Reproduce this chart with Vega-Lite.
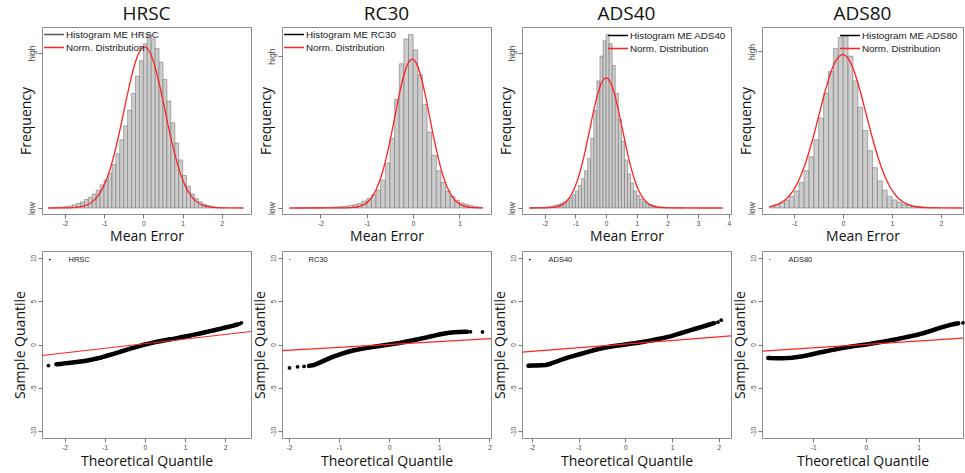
{
"$schema":"https://vega.github.io/schema/vega-lite/v6.json",
"background":"white",
"padding":{"left":12,"top":4,"right":0,"bottom":0},
"datasets":{
"hist":[
{"p":"HRSC","x":-2.3,"xe":-2.2,"y":0.003},{"p":"HRSC","x":-2.2,"xe":-2.1,"y":0.005},{"p":"HRSC","x":-2.1,"xe":-2.0,"y":0.007},{"p":"HRSC","x":-2.0,"xe":-1.9,"y":0.01},{"p":"HRSC","x":-1.9,"xe":-1.8,"y":0.014},{"p":"HRSC","x":-1.8,"xe":-1.7,"y":0.02},{"p":"HRSC","x":-1.7,"xe":-1.6,"y":0.03},{"p":"HRSC","x":-1.6,"xe":-1.5,"y":0.04},{"p":"HRSC","x":-1.5,"xe":-1.4,"y":0.055},{"p":"HRSC","x":-1.4,"xe":-1.3,"y":0.07},{"p":"HRSC","x":-1.3,"xe":-1.2,"y":0.09},{"p":"HRSC","x":-1.2,"xe":-1.1,"y":0.115},{"p":"HRSC","x":-1.1,"xe":-1.0,"y":0.15},{"p":"HRSC","x":-1.0,"xe":-0.9,"y":0.18},{"p":"HRSC","x":-0.9,"xe":-0.8,"y":0.225},{"p":"HRSC","x":-0.8,"xe":-0.7,"y":0.28},{"p":"HRSC","x":-0.7,"xe":-0.6,"y":0.35},{"p":"HRSC","x":-0.6,"xe":-0.5,"y":0.44},{"p":"HRSC","x":-0.5,"xe":-0.4,"y":0.53},{"p":"HRSC","x":-0.4,"xe":-0.3,"y":0.63},{"p":"HRSC","x":-0.3,"xe":-0.2,"y":0.74},{"p":"HRSC","x":-0.2,"xe":-0.1,"y":0.85},{"p":"HRSC","x":-0.1,"xe":0,"y":0.95},{"p":"HRSC","x":0,"xe":0.1,"y":1.06},{"p":"HRSC","x":0.1,"xe":0.2,"y":1.12},{"p":"HRSC","x":0.2,"xe":0.3,"y":1.09},{"p":"HRSC","x":0.3,"xe":0.4,"y":1.03},{"p":"HRSC","x":0.4,"xe":0.5,"y":0.94},{"p":"HRSC","x":0.5,"xe":0.6,"y":0.83},{"p":"HRSC","x":0.6,"xe":0.7,"y":0.69},{"p":"HRSC","x":0.7,"xe":0.8,"y":0.55},{"p":"HRSC","x":0.8,"xe":0.9,"y":0.42},{"p":"HRSC","x":0.9,"xe":1.0,"y":0.31},{"p":"HRSC","x":1.0,"xe":1.1,"y":0.21},{"p":"HRSC","x":1.1,"xe":1.2,"y":0.14},{"p":"HRSC","x":1.2,"xe":1.3,"y":0.09},{"p":"HRSC","x":1.3,"xe":1.4,"y":0.06},{"p":"HRSC","x":1.4,"xe":1.5,"y":0.04},{"p":"HRSC","x":1.5,"xe":1.6,"y":0.025},{"p":"HRSC","x":1.6,"xe":1.7,"y":0.016},{"p":"HRSC","x":1.7,"xe":1.8,"y":0.01},{"p":"HRSC","x":1.8,"xe":1.9,"y":0.006},{"p":"HRSC","x":1.9,"xe":2.0,"y":0.004},{"p":"HRSC","x":2.0,"xe":2.1,"y":0.002},
{"p":"RC30","x":-2.5,"xe":-2.4,"y":0.001},{"p":"RC30","x":-2.4,"xe":-2.3,"y":0.001},{"p":"RC30","x":-2.3,"xe":-2.2,"y":0.002},{"p":"RC30","x":-2.2,"xe":-2.1,"y":0.002},{"p":"RC30","x":-2.1,"xe":-2.0,"y":0.003},{"p":"RC30","x":-2.0,"xe":-1.9,"y":0.003},{"p":"RC30","x":-1.9,"xe":-1.8,"y":0.004},{"p":"RC30","x":-1.8,"xe":-1.7,"y":0.005},{"p":"RC30","x":-1.7,"xe":-1.6,"y":0.007},{"p":"RC30","x":-1.6,"xe":-1.5,"y":0.009},{"p":"RC30","x":-1.5,"xe":-1.4,"y":0.012},{"p":"RC30","x":-1.4,"xe":-1.3,"y":0.016},{"p":"RC30","x":-1.3,"xe":-1.2,"y":0.022},{"p":"RC30","x":-1.2,"xe":-1.1,"y":0.03},{"p":"RC30","x":-1.1,"xe":-1.0,"y":0.045},{"p":"RC30","x":-1.0,"xe":-0.9,"y":0.062},{"p":"RC30","x":-0.9,"xe":-0.8,"y":0.085},{"p":"RC30","x":-0.8,"xe":-0.7,"y":0.115},{"p":"RC30","x":-0.7,"xe":-0.6,"y":0.18},{"p":"RC30","x":-0.6,"xe":-0.5,"y":0.29},{"p":"RC30","x":-0.5,"xe":-0.4,"y":0.45},{"p":"RC30","x":-0.4,"xe":-0.3,"y":0.7},{"p":"RC30","x":-0.3,"xe":-0.2,"y":0.93},{"p":"RC30","x":-0.2,"xe":-0.1,"y":1.09},{"p":"RC30","x":-0.1,"xe":0,"y":1.12},{"p":"RC30","x":0,"xe":0.1,"y":1.02},{"p":"RC30","x":0.1,"xe":0.2,"y":0.86},{"p":"RC30","x":0.2,"xe":0.3,"y":0.67},{"p":"RC30","x":0.3,"xe":0.4,"y":0.49},{"p":"RC30","x":0.4,"xe":0.5,"y":0.34},{"p":"RC30","x":0.5,"xe":0.6,"y":0.24},{"p":"RC30","x":0.6,"xe":0.7,"y":0.165},{"p":"RC30","x":0.7,"xe":0.8,"y":0.11},{"p":"RC30","x":0.8,"xe":0.9,"y":0.075},{"p":"RC30","x":0.9,"xe":1.0,"y":0.05},{"p":"RC30","x":1.0,"xe":1.1,"y":0.033},{"p":"RC30","x":1.1,"xe":1.2,"y":0.022},{"p":"RC30","x":1.2,"xe":1.3,"y":0.014},{"p":"RC30","x":1.3,"xe":1.4,"y":0.009},{"p":"RC30","x":1.4,"xe":1.5,"y":0.005},
{"p":"ADS40","x":-2.5,"xe":-2.4,"y":0.001},{"p":"ADS40","x":-2.4,"xe":-2.3,"y":0.002},{"p":"ADS40","x":-2.3,"xe":-2.2,"y":0.003},{"p":"ADS40","x":-2.2,"xe":-2.1,"y":0.004},{"p":"ADS40","x":-2.1,"xe":-2.0,"y":0.005},{"p":"ADS40","x":-2.0,"xe":-1.9,"y":0.007},{"p":"ADS40","x":-1.9,"xe":-1.8,"y":0.009},{"p":"ADS40","x":-1.8,"xe":-1.7,"y":0.012},{"p":"ADS40","x":-1.7,"xe":-1.6,"y":0.017},{"p":"ADS40","x":-1.6,"xe":-1.5,"y":0.022},{"p":"ADS40","x":-1.5,"xe":-1.4,"y":0.03},{"p":"ADS40","x":-1.4,"xe":-1.3,"y":0.04},{"p":"ADS40","x":-1.3,"xe":-1.2,"y":0.052},{"p":"ADS40","x":-1.2,"xe":-1.1,"y":0.068},{"p":"ADS40","x":-1.1,"xe":-1.0,"y":0.085},{"p":"ADS40","x":-1.0,"xe":-0.9,"y":0.11},{"p":"ADS40","x":-0.9,"xe":-0.8,"y":0.145},{"p":"ADS40","x":-0.8,"xe":-0.7,"y":0.19},{"p":"ADS40","x":-0.7,"xe":-0.6,"y":0.24},{"p":"ADS40","x":-0.6,"xe":-0.5,"y":0.32},{"p":"ADS40","x":-0.5,"xe":-0.4,"y":0.45},{"p":"ADS40","x":-0.4,"xe":-0.3,"y":0.63},{"p":"ADS40","x":-0.3,"xe":-0.2,"y":0.82},{"p":"ADS40","x":-0.2,"xe":-0.1,"y":0.98},{"p":"ADS40","x":-0.1,"xe":0,"y":1.08},{"p":"ADS40","x":0,"xe":0.1,"y":1.12},{"p":"ADS40","x":0.1,"xe":0.2,"y":1.06},{"p":"ADS40","x":0.2,"xe":0.3,"y":0.92},{"p":"ADS40","x":0.3,"xe":0.4,"y":0.74},{"p":"ADS40","x":0.4,"xe":0.5,"y":0.57},{"p":"ADS40","x":0.5,"xe":0.6,"y":0.43},{"p":"ADS40","x":0.6,"xe":0.7,"y":0.31},{"p":"ADS40","x":0.7,"xe":0.8,"y":0.22},{"p":"ADS40","x":0.8,"xe":0.9,"y":0.16},{"p":"ADS40","x":0.9,"xe":1.0,"y":0.11},{"p":"ADS40","x":1.0,"xe":1.1,"y":0.08},{"p":"ADS40","x":1.1,"xe":1.2,"y":0.058},{"p":"ADS40","x":1.2,"xe":1.3,"y":0.042},{"p":"ADS40","x":1.3,"xe":1.4,"y":0.03},{"p":"ADS40","x":1.4,"xe":1.5,"y":0.021},{"p":"ADS40","x":1.5,"xe":1.6,"y":0.015},{"p":"ADS40","x":1.6,"xe":1.7,"y":0.011},{"p":"ADS40","x":1.7,"xe":1.8,"y":0.008},{"p":"ADS40","x":1.8,"xe":1.9,"y":0.006},{"p":"ADS40","x":1.9,"xe":2.0,"y":0.004},{"p":"ADS40","x":2.0,"xe":2.1,"y":0.003},{"p":"ADS40","x":2.1,"xe":2.2,"y":0.002},{"p":"ADS40","x":2.2,"xe":2.3,"y":0.002},{"p":"ADS40","x":2.3,"xe":2.4,"y":0.001},{"p":"ADS40","x":2.4,"xe":2.5,"y":0.001},
{"p":"ADS80","x":-1.5,"xe":-1.4,"y":0.012},{"p":"ADS80","x":-1.4,"xe":-1.3,"y":0.022},{"p":"ADS80","x":-1.3,"xe":-1.2,"y":0.034},{"p":"ADS80","x":-1.2,"xe":-1.1,"y":0.05},{"p":"ADS80","x":-1.1,"xe":-1.0,"y":0.075},{"p":"ADS80","x":-1.0,"xe":-0.9,"y":0.11},{"p":"ADS80","x":-0.9,"xe":-0.8,"y":0.165},{"p":"ADS80","x":-0.8,"xe":-0.7,"y":0.24},{"p":"ADS80","x":-0.7,"xe":-0.6,"y":0.33},{"p":"ADS80","x":-0.6,"xe":-0.5,"y":0.44},{"p":"ADS80","x":-0.5,"xe":-0.4,"y":0.58},{"p":"ADS80","x":-0.4,"xe":-0.3,"y":0.74},{"p":"ADS80","x":-0.3,"xe":-0.2,"y":0.88},{"p":"ADS80","x":-0.2,"xe":-0.1,"y":1.03},{"p":"ADS80","x":-0.1,"xe":0,"y":1.1},{"p":"ADS80","x":0,"xe":0.1,"y":1.11},{"p":"ADS80","x":0.1,"xe":0.2,"y":0.98},{"p":"ADS80","x":0.2,"xe":0.3,"y":0.82},{"p":"ADS80","x":0.3,"xe":0.4,"y":0.65},{"p":"ADS80","x":0.4,"xe":0.5,"y":0.5},{"p":"ADS80","x":0.5,"xe":0.6,"y":0.37},{"p":"ADS80","x":0.6,"xe":0.7,"y":0.26},{"p":"ADS80","x":0.7,"xe":0.8,"y":0.175},{"p":"ADS80","x":0.8,"xe":0.9,"y":0.115},{"p":"ADS80","x":0.9,"xe":1.0,"y":0.075},{"p":"ADS80","x":1.0,"xe":1.1,"y":0.052},{"p":"ADS80","x":1.1,"xe":1.2,"y":0.036},{"p":"ADS80","x":1.2,"xe":1.3,"y":0.025},{"p":"ADS80","x":1.3,"xe":1.4,"y":0.018},{"p":"ADS80","x":1.4,"xe":1.5,"y":0.013},{"p":"ADS80","x":1.5,"xe":1.6,"y":0.009},{"p":"ADS80","x":1.6,"xe":1.7,"y":0.007},{"p":"ADS80","x":1.7,"xe":1.8,"y":0.005},{"p":"ADS80","x":1.8,"xe":1.9,"y":0.004},{"p":"ADS80","x":1.9,"xe":2.0,"y":0.003}
],
"curve":[
{"p":"HRSC","x":-2.43,"y":0},{"p":"HRSC","x":-2.05,"y":0.0003},{"p":"HRSC","x":-1.79,"y":0.002},{"p":"HRSC","x":-1.53,"y":0.012},{"p":"HRSC","x":-1.4,"y":0.024},{"p":"HRSC","x":-1.27,"y":0.046},{"p":"HRSC","x":-1.14,"y":0.083},{"p":"HRSC","x":-1.01,"y":0.141},{"p":"HRSC","x":-0.88,"y":0.225},{"p":"HRSC","x":-0.75,"y":0.338},{"p":"HRSC","x":-0.62,"y":0.476},{"p":"HRSC","x":-0.49,"y":0.631},{"p":"HRSC","x":-0.36,"y":0.785},{"p":"HRSC","x":-0.23,"y":0.918},{"p":"HRSC","x":-0.1,"y":1.008},{"p":"HRSC","x":0.03,"y":1.04},{"p":"HRSC","x":0.16,"y":1.008},{"p":"HRSC","x":0.29,"y":0.918},{"p":"HRSC","x":0.42,"y":0.785},{"p":"HRSC","x":0.55,"y":0.631},{"p":"HRSC","x":0.68,"y":0.476},{"p":"HRSC","x":0.81,"y":0.338},{"p":"HRSC","x":0.94,"y":0.225},{"p":"HRSC","x":1.07,"y":0.141},{"p":"HRSC","x":1.2,"y":0.083},{"p":"HRSC","x":1.33,"y":0.046},{"p":"HRSC","x":1.46,"y":0.024},{"p":"HRSC","x":1.59,"y":0.012},{"p":"HRSC","x":1.85,"y":0.002},{"p":"HRSC","x":2.11,"y":0.0003},{"p":"HRSC","x":2.55,"y":0},
{"p":"RC30","x":-2.67,"y":0},{"p":"RC30","x":-1.54,"y":0.0003},{"p":"RC30","x":-1.35,"y":0.002},{"p":"RC30","x":-1.16,"y":0.011},{"p":"RC30","x":-1.065,"y":0.022},{"p":"RC30","x":-0.97,"y":0.042},{"p":"RC30","x":-0.875,"y":0.076},{"p":"RC30","x":-0.78,"y":0.13},{"p":"RC30","x":-0.685,"y":0.208},{"p":"RC30","x":-0.59,"y":0.312},{"p":"RC30","x":-0.495,"y":0.439},{"p":"RC30","x":-0.4,"y":0.582},{"p":"RC30","x":-0.305,"y":0.725},{"p":"RC30","x":-0.21,"y":0.847},{"p":"RC30","x":-0.115,"y":0.93},{"p":"RC30","x":-0.02,"y":0.96},{"p":"RC30","x":0.075,"y":0.93},{"p":"RC30","x":0.17,"y":0.847},{"p":"RC30","x":0.265,"y":0.725},{"p":"RC30","x":0.36,"y":0.582},{"p":"RC30","x":0.455,"y":0.439},{"p":"RC30","x":0.55,"y":0.312},{"p":"RC30","x":0.645,"y":0.208},{"p":"RC30","x":0.74,"y":0.13},{"p":"RC30","x":0.835,"y":0.076},{"p":"RC30","x":0.93,"y":0.042},{"p":"RC30","x":1.025,"y":0.022},{"p":"RC30","x":1.12,"y":0.011},{"p":"RC30","x":1.31,"y":0.002},{"p":"RC30","x":1.5,"y":0.0003},
{"p":"ADS40","x":-2.5,"y":0},{"p":"ADS40","x":-2.12,"y":0.0003},{"p":"ADS40","x":-1.855,"y":0.002},{"p":"ADS40","x":-1.59,"y":0.009},{"p":"ADS40","x":-1.458,"y":0.019},{"p":"ADS40","x":-1.325,"y":0.037},{"p":"ADS40","x":-1.193,"y":0.067},{"p":"ADS40","x":-1.06,"y":0.114},{"p":"ADS40","x":-0.928,"y":0.182},{"p":"ADS40","x":-0.795,"y":0.273},{"p":"ADS40","x":-0.663,"y":0.385},{"p":"ADS40","x":-0.53,"y":0.509},{"p":"ADS40","x":-0.398,"y":0.634},{"p":"ADS40","x":-0.265,"y":0.741},{"p":"ADS40","x":-0.133,"y":0.814},{"p":"ADS40","x":0,"y":0.84},{"p":"ADS40","x":0.133,"y":0.814},{"p":"ADS40","x":0.265,"y":0.741},{"p":"ADS40","x":0.398,"y":0.634},{"p":"ADS40","x":0.53,"y":0.509},{"p":"ADS40","x":0.663,"y":0.385},{"p":"ADS40","x":0.795,"y":0.273},{"p":"ADS40","x":0.928,"y":0.182},{"p":"ADS40","x":1.06,"y":0.114},{"p":"ADS40","x":1.193,"y":0.067},{"p":"ADS40","x":1.325,"y":0.037},{"p":"ADS40","x":1.458,"y":0.019},{"p":"ADS40","x":1.59,"y":0.009},{"p":"ADS40","x":1.855,"y":0.002},{"p":"ADS40","x":2.12,"y":0.0003},{"p":"ADS40","x":3.8,"y":0},
{"p":"ADS80","x":-1.51,"y":0.008},{"p":"ADS80","x":-1.465,"y":0.011},{"p":"ADS80","x":-1.344,"y":0.023},{"p":"ADS80","x":-1.223,"y":0.043},{"p":"ADS80","x":-1.101,"y":0.079},{"p":"ADS80","x":-0.98,"y":0.134},{"p":"ADS80","x":-0.859,"y":0.214},{"p":"ADS80","x":-0.738,"y":0.321},{"p":"ADS80","x":-0.616,"y":0.453},{"p":"ADS80","x":-0.495,"y":0.6},{"p":"ADS80","x":-0.374,"y":0.747},{"p":"ADS80","x":-0.253,"y":0.874},{"p":"ADS80","x":-0.131,"y":0.96},{"p":"ADS80","x":-0.01,"y":0.99},{"p":"ADS80","x":0.111,"y":0.96},{"p":"ADS80","x":0.233,"y":0.874},{"p":"ADS80","x":0.354,"y":0.747},{"p":"ADS80","x":0.475,"y":0.6},{"p":"ADS80","x":0.596,"y":0.453},{"p":"ADS80","x":0.718,"y":0.321},{"p":"ADS80","x":0.839,"y":0.214},{"p":"ADS80","x":0.96,"y":0.134},{"p":"ADS80","x":1.081,"y":0.079},{"p":"ADS80","x":1.203,"y":0.043},{"p":"ADS80","x":1.324,"y":0.023},{"p":"ADS80","x":1.445,"y":0.011},{"p":"ADS80","x":1.688,"y":0.002},{"p":"ADS80","x":1.93,"y":0.0003},{"p":"ADS80","x":2.44,"y":0}
],
"qq":[
{"p":"HRSC","q":-2.4,"s":-2.43,"iso":true},{"p":"HRSC","q":-2.2,"s":-2.29},{"p":"HRSC","q":-2.1,"s":-2.24},{"p":"HRSC","q":-2.0,"s":-2.18},{"p":"HRSC","q":-1.9,"s":-2.14},{"p":"HRSC","q":-1.8,"s":-2.09},{"p":"HRSC","q":-1.7,"s":-2.03},{"p":"HRSC","q":-1.6,"s":-1.97},{"p":"HRSC","q":-1.5,"s":-1.9},{"p":"HRSC","q":-1.4,"s":-1.82},{"p":"HRSC","q":-1.3,"s":-1.72},{"p":"HRSC","q":-1.2,"s":-1.62},{"p":"HRSC","q":-1.1,"s":-1.52},{"p":"HRSC","q":-1.0,"s":-1.38},{"p":"HRSC","q":-0.9,"s":-1.24},{"p":"HRSC","q":-0.8,"s":-1.11},{"p":"HRSC","q":-0.7,"s":-0.97},{"p":"HRSC","q":-0.6,"s":-0.83},{"p":"HRSC","q":-0.5,"s":-0.68},{"p":"HRSC","q":-0.4,"s":-0.54},{"p":"HRSC","q":-0.3,"s":-0.4},{"p":"HRSC","q":-0.2,"s":-0.27},{"p":"HRSC","q":-0.1,"s":-0.13},{"p":"HRSC","q":0,"s":0},{"p":"HRSC","q":0.1,"s":0.1},{"p":"HRSC","q":0.2,"s":0.21},{"p":"HRSC","q":0.3,"s":0.31},{"p":"HRSC","q":0.4,"s":0.41},{"p":"HRSC","q":0.5,"s":0.5},{"p":"HRSC","q":0.6,"s":0.58},{"p":"HRSC","q":0.7,"s":0.65},{"p":"HRSC","q":0.8,"s":0.74},{"p":"HRSC","q":0.9,"s":0.83},{"p":"HRSC","q":1.0,"s":0.92},{"p":"HRSC","q":1.1,"s":1.01},{"p":"HRSC","q":1.2,"s":1.11},{"p":"HRSC","q":1.3,"s":1.21},{"p":"HRSC","q":1.4,"s":1.3},{"p":"HRSC","q":1.5,"s":1.41},{"p":"HRSC","q":1.6,"s":1.52},{"p":"HRSC","q":1.7,"s":1.62},{"p":"HRSC","q":1.8,"s":1.73},{"p":"HRSC","q":1.9,"s":1.84},{"p":"HRSC","q":2.0,"s":1.96},{"p":"HRSC","q":2.1,"s":2.07},{"p":"HRSC","q":2.2,"s":2.18},{"p":"HRSC","q":2.25,"s":2.25},{"p":"HRSC","q":2.3,"s":2.31},{"p":"HRSC","q":2.35,"s":2.38,"iso":true},{"p":"HRSC","q":2.4,"s":2.5,"iso":true},
{"p":"RC30","q":-1.99,"s":-2.7,"iso":true},{"p":"RC30","q":-1.83,"s":-2.58,"iso":true},{"p":"RC30","q":-1.7,"s":-2.54,"iso":true},{"p":"RC30","q":-1.6,"s":-2.47},{"p":"RC30","q":-1.5,"s":-2.37},{"p":"RC30","q":-1.4,"s":-2.12},{"p":"RC30","q":-1.3,"s":-1.86},{"p":"RC30","q":-1.2,"s":-1.6},{"p":"RC30","q":-1.1,"s":-1.38},{"p":"RC30","q":-1.0,"s":-1.16},{"p":"RC30","q":-0.9,"s":-0.98},{"p":"RC30","q":-0.8,"s":-0.81},{"p":"RC30","q":-0.7,"s":-0.67},{"p":"RC30","q":-0.6,"s":-0.56},{"p":"RC30","q":-0.5,"s":-0.45},{"p":"RC30","q":-0.4,"s":-0.36},{"p":"RC30","q":-0.3,"s":-0.27},{"p":"RC30","q":-0.2,"s":-0.18},{"p":"RC30","q":-0.1,"s":-0.09},{"p":"RC30","q":0,"s":0},{"p":"RC30","q":0.1,"s":0.09},{"p":"RC30","q":0.2,"s":0.18},{"p":"RC30","q":0.3,"s":0.28},{"p":"RC30","q":0.4,"s":0.4},{"p":"RC30","q":0.5,"s":0.52},{"p":"RC30","q":0.6,"s":0.64},{"p":"RC30","q":0.7,"s":0.77},{"p":"RC30","q":0.8,"s":0.9},{"p":"RC30","q":0.9,"s":1.03},{"p":"RC30","q":1.0,"s":1.16},{"p":"RC30","q":1.1,"s":1.27},{"p":"RC30","q":1.2,"s":1.36},{"p":"RC30","q":1.3,"s":1.42},{"p":"RC30","q":1.4,"s":1.45},{"p":"RC30","q":1.5,"s":1.46},{"p":"RC30","q":1.55,"s":1.46},{"p":"RC30","q":1.62,"s":1.46,"iso":true},{"p":"RC30","q":1.86,"s":1.45,"iso":true},
{"p":"ADS40","q":-2.07,"s":-2.45},{"p":"ADS40","q":-2.0,"s":-2.44},{"p":"ADS40","q":-1.9,"s":-2.42},{"p":"ADS40","q":-1.8,"s":-2.4},{"p":"ADS40","q":-1.7,"s":-2.37},{"p":"ADS40","q":-1.6,"s":-2.22},{"p":"ADS40","q":-1.5,"s":-2.02},{"p":"ADS40","q":-1.4,"s":-1.82},{"p":"ADS40","q":-1.3,"s":-1.63},{"p":"ADS40","q":-1.2,"s":-1.46},{"p":"ADS40","q":-1.1,"s":-1.31},{"p":"ADS40","q":-1.0,"s":-1.16},{"p":"ADS40","q":-0.9,"s":-1.01},{"p":"ADS40","q":-0.8,"s":-0.85},{"p":"ADS40","q":-0.7,"s":-0.7},{"p":"ADS40","q":-0.6,"s":-0.57},{"p":"ADS40","q":-0.5,"s":-0.44},{"p":"ADS40","q":-0.4,"s":-0.32},{"p":"ADS40","q":-0.3,"s":-0.23},{"p":"ADS40","q":-0.2,"s":-0.15},{"p":"ADS40","q":-0.1,"s":-0.08},{"p":"ADS40","q":0,"s":0},{"p":"ADS40","q":0.1,"s":0.08},{"p":"ADS40","q":0.2,"s":0.15},{"p":"ADS40","q":0.3,"s":0.23},{"p":"ADS40","q":0.4,"s":0.32},{"p":"ADS40","q":0.5,"s":0.42},{"p":"ADS40","q":0.6,"s":0.52},{"p":"ADS40","q":0.7,"s":0.63},{"p":"ADS40","q":0.8,"s":0.74},{"p":"ADS40","q":0.9,"s":0.86},{"p":"ADS40","q":1.0,"s":1.0},{"p":"ADS40","q":1.1,"s":1.16},{"p":"ADS40","q":1.2,"s":1.33},{"p":"ADS40","q":1.3,"s":1.49},{"p":"ADS40","q":1.4,"s":1.65},{"p":"ADS40","q":1.5,"s":1.82},{"p":"ADS40","q":1.6,"s":1.98},{"p":"ADS40","q":1.7,"s":2.14},{"p":"ADS40","q":1.8,"s":2.31},{"p":"ADS40","q":1.9,"s":2.46},{"p":"ADS40","q":1.98,"s":2.58,"iso":true},{"p":"ADS40","q":2.05,"s":2.81,"iso":true},
{"p":"ADS80","q":-1.85,"s":-1.55},{"p":"ADS80","q":-1.8,"s":-1.57},{"p":"ADS80","q":-1.7,"s":-1.58},{"p":"ADS80","q":-1.6,"s":-1.58},{"p":"ADS80","q":-1.5,"s":-1.57},{"p":"ADS80","q":-1.4,"s":-1.52},{"p":"ADS80","q":-1.3,"s":-1.45},{"p":"ADS80","q":-1.2,"s":-1.36},{"p":"ADS80","q":-1.1,"s":-1.24},{"p":"ADS80","q":-1.0,"s":-1.1},{"p":"ADS80","q":-0.9,"s":-0.96},{"p":"ADS80","q":-0.8,"s":-0.84},{"p":"ADS80","q":-0.7,"s":-0.71},{"p":"ADS80","q":-0.6,"s":-0.59},{"p":"ADS80","q":-0.5,"s":-0.47},{"p":"ADS80","q":-0.4,"s":-0.36},{"p":"ADS80","q":-0.3,"s":-0.25},{"p":"ADS80","q":-0.2,"s":-0.16},{"p":"ADS80","q":-0.1,"s":-0.08},{"p":"ADS80","q":0,"s":0},{"p":"ADS80","q":0.1,"s":0.1},{"p":"ADS80","q":0.2,"s":0.2},{"p":"ADS80","q":0.3,"s":0.3},{"p":"ADS80","q":0.4,"s":0.41},{"p":"ADS80","q":0.5,"s":0.52},{"p":"ADS80","q":0.6,"s":0.63},{"p":"ADS80","q":0.7,"s":0.76},{"p":"ADS80","q":0.8,"s":0.89},{"p":"ADS80","q":0.9,"s":1.02},{"p":"ADS80","q":1.0,"s":1.16},{"p":"ADS80","q":1.1,"s":1.33},{"p":"ADS80","q":1.2,"s":1.52},{"p":"ADS80","q":1.3,"s":1.72},{"p":"ADS80","q":1.4,"s":1.92},{"p":"ADS80","q":1.5,"s":2.1},{"p":"ADS80","q":1.6,"s":2.27},{"p":"ADS80","q":1.7,"s":2.4},{"p":"ADS80","q":1.75,"s":2.44},{"p":"ADS80","q":1.84,"s":2.5,"iso":true}
],
"qqline":[
{"p":"HRSC","q":-2.56,"s":-1.27},{"p":"HRSC","q":2.64,"s":1.5},
{"p":"RC30","q":-2.14,"s":-0.7},{"p":"RC30","q":2.03,"s":0.69},
{"p":"ADS40","q":-2.21,"s":-0.89},{"p":"ADS40","q":2.26,"s":0.99},
{"p":"ADS80","q":-1.97,"s":-0.77},{"p":"ADS80","q":1.84,"s":0.73}
]
},
"columns":4,
"spacing":{"row":37,"column":31},
"bounds":"flush",
"resolve":{"scale":{"color":"independent","x":"independent","y":"independent"},"legend":{"color":"independent"}},
"concat":[
{"width":209,"height":187,"title":{"text":"HRSC"},
 "encoding":{"x":{"field":"x","type":"quantitative","scale":{"domain":[-2.58,2.74],"nice":false,"zero":false},"axis":{"title":"Mean Error","values":[-2,-1,0,1,2],"labelExpr":"'' + datum.value"}},
  "y":{"field":"y","type":"quantitative","scale":{"domain":[-0.0387,1.1677],"nice":false,"zero":false},"axis":{"title":"Frequency","values":[0,1],"labelExpr":"datum.value < 0.5 ? 'low' : 'high'","labelFontSize":8.5,"titlePadding":-6}}},
 "layer":[
  {"data":{"name":"hist"},"transform":[{"filter":"datum.p == 'HRSC'"}],"mark":{"type":"rect","fill":"#cdcdcd","stroke":"#686868","strokeWidth":0.5},"encoding":{"x2":{"field":"xe"},"y2":{"datum":0}}},
  {"data":{"name":"curve"},"transform":[{"filter":"datum.p == 'HRSC'"}],"mark":{"type":"line","strokeWidth":1.3,"interpolate":"monotone"},"encoding":{"color":{"datum":"Norm. Distribution","type":"nominal","scale":{"domain":["Histogram  ME HRSC","Norm. Distribution"],"range":["#555555","#ff2222"]},"legend":{"title":null,"orient":"top-left","offset":1}}}}
 ]},
{"width":209,"height":187,"title":{"text":"RC30"},
 "encoding":{"x":{"field":"x","type":"quantitative","scale":{"domain":[-2.83,1.68],"nice":false,"zero":false},"axis":{"title":"Mean Error","values":[-2,-1,0,1],"labelExpr":"'' + datum.value"}},
  "y":{"field":"y","type":"quantitative","scale":{"domain":[-0.0387,1.1677],"nice":false,"zero":false},"axis":{"title":"Frequency","values":[0,0.98],"labelExpr":"datum.value < 0.5 ? 'low' : 'high'","labelFontSize":8.5,"titlePadding":-6}}},
 "layer":[
  {"data":{"name":"hist"},"transform":[{"filter":"datum.p == 'RC30'"}],"mark":{"type":"rect","fill":"#cdcdcd","stroke":"#686868","strokeWidth":0.5},"encoding":{"x2":{"field":"xe"},"y2":{"datum":0}}},
  {"data":{"name":"curve"},"transform":[{"filter":"datum.p == 'RC30'"}],"mark":{"type":"line","strokeWidth":1.3,"interpolate":"monotone"},"encoding":{"color":{"datum":"Norm. Distribution","type":"nominal","scale":{"domain":["Histogram  ME RC30","Norm. Distribution"],"range":["#000000","#ff2222"]},"legend":{"title":null,"orient":"top-left","offset":1}}}}
 ]},
{"width":209,"height":187,"title":{"text":"ADS40"},
 "encoding":{"x":{"field":"x","type":"quantitative","scale":{"domain":[-2.74,4.07],"nice":false,"zero":false},"axis":{"title":"Mean Error","values":[-2,-1,0,1,2,3,4],"labelExpr":"'' + datum.value"}},
  "y":{"field":"y","type":"quantitative","scale":{"domain":[-0.0387,1.1677],"nice":false,"zero":false},"axis":{"title":"Frequency","values":[0,1],"labelExpr":"datum.value < 0.5 ? 'low' : 'high'","labelFontSize":8.5,"titlePadding":-6}}},
 "layer":[
  {"data":{"name":"hist"},"transform":[{"filter":"datum.p == 'ADS40'"}],"mark":{"type":"rect","fill":"#cdcdcd","stroke":"#686868","strokeWidth":0.5},"encoding":{"x2":{"field":"xe"},"y2":{"datum":0}}},
  {"data":{"name":"curve"},"transform":[{"filter":"datum.p == 'ADS40'"}],"mark":{"type":"line","strokeWidth":1.3,"interpolate":"monotone"},"encoding":{"color":{"datum":"Norm. Distribution","type":"nominal","scale":{"domain":["Histogram  ME ADS40","Norm. Distribution"],"range":["#000000","#ff2222"]},"legend":{"title":null,"orient":"top-right","offset":2}}}}
 ]},
{"width":201,"height":187,"title":{"text":"ADS80"},
 "encoding":{"x":{"field":"x","type":"quantitative","scale":{"domain":[-1.66,2.45],"nice":false,"zero":false},"axis":{"title":"Mean Error","values":[-1,0,1,2],"labelExpr":"'' + datum.value"}},
  "y":{"field":"y","type":"quantitative","scale":{"domain":[-0.0387,1.1677],"nice":false,"zero":false},"axis":{"title":"Frequency","values":[0,1.01],"labelExpr":"datum.value < 0.5 ? 'low' : 'high'","labelFontSize":8.5,"titlePadding":-6}}},
 "layer":[
  {"data":{"name":"hist"},"transform":[{"filter":"datum.p == 'ADS80'"}],"mark":{"type":"rect","fill":"#cdcdcd","stroke":"#686868","strokeWidth":0.5},"encoding":{"x2":{"field":"xe"},"y2":{"datum":0}}},
  {"data":{"name":"curve"},"transform":[{"filter":"datum.p == 'ADS80'"}],"mark":{"type":"line","strokeWidth":1.3,"interpolate":"monotone"},"encoding":{"color":{"datum":"Norm. Distribution","type":"nominal","scale":{"domain":["Histogram  ME ADS80","Norm. Distribution"],"range":["#000000","#ff2222"]},"legend":{"title":null,"orient":"top-right","offset":2}}}}
 ]},
{"width":209,"height":187,
 "encoding":{"x":{"field":"q","type":"quantitative","scale":{"domain":[-2.56,2.64],"nice":false,"zero":false},"axis":{"title":"Theoretical Quantile","values":[-2,-1,0,1,2],"labelExpr":"'' + datum.value","titlePadding":4}},
  "y":{"field":"s","type":"quantitative","scale":{"domain":[-10.8,10.8],"nice":false,"zero":false},"axis":{"title":"Sample Quantile","values":[-10,-5,0,5,10],"labelExpr":"'' + datum.value","titlePadding":3}}},
 "layer":[
  {"data":{"name":"qq"},"transform":[{"filter":"datum.p == 'HRSC' && !datum.iso"}],"mark":{"type":"line","stroke":"#000000","strokeWidth":4.5,"strokeCap":"round","strokeJoin":"round"},"encoding":{}},
  {"data":{"name":"qq"},"transform":[{"filter":"datum.p == 'HRSC'"}],"mark":{"type":"circle","size":14,"opacity":1},"encoding":{"color":{"datum":"HRSC","type":"nominal","scale":{"domain":["HRSC"],"range":["#000000"]},"legend":{"title":null,"orient":"top-left","symbolType":"circle","symbolSize":3,"labelFontSize":7.5,"labelOffset":15,"offset":4,"clipHeight":9}}}},
  {"data":{"name":"qqline"},"transform":[{"filter":"datum.p == 'HRSC'"}],"mark":{"type":"line","stroke":"#ff2222","strokeWidth":1.2},"encoding":{}}
 ]},
{"width":209,"height":187,
 "encoding":{"x":{"field":"q","type":"quantitative","scale":{"domain":[-2.14,2.03],"nice":false,"zero":false},"axis":{"title":"Theoretical Quantile","values":[-2,-1,0,1,2],"labelExpr":"'' + datum.value","titlePadding":4}},
  "y":{"field":"s","type":"quantitative","scale":{"domain":[-10.8,10.8],"nice":false,"zero":false},"axis":{"title":"Sample Quantile","values":[-10,-5,0,5,10],"labelExpr":"'' + datum.value","titlePadding":3}}},
 "layer":[
  {"data":{"name":"qq"},"transform":[{"filter":"datum.p == 'RC30' && !datum.iso"}],"mark":{"type":"line","stroke":"#000000","strokeWidth":4.5,"strokeCap":"round","strokeJoin":"round"},"encoding":{}},
  {"data":{"name":"qq"},"transform":[{"filter":"datum.p == 'RC30'"}],"mark":{"type":"circle","size":14,"opacity":1},"encoding":{"color":{"datum":"RC30","type":"nominal","scale":{"domain":["RC30"],"range":["#000000"]},"legend":{"title":null,"orient":"top-left","symbolType":"circle","symbolSize":1,"labelFontSize":7.5,"labelOffset":15,"offset":4,"clipHeight":9}}}},
  {"data":{"name":"qqline"},"transform":[{"filter":"datum.p == 'RC30'"}],"mark":{"type":"line","stroke":"#ff2222","strokeWidth":1.2},"encoding":{}}
 ]},
{"width":209,"height":187,
 "encoding":{"x":{"field":"q","type":"quantitative","scale":{"domain":[-2.21,2.26],"nice":false,"zero":false},"axis":{"title":"Theoretical Quantile","values":[-2,-1,0,1,2],"labelExpr":"'' + datum.value","titlePadding":4}},
  "y":{"field":"s","type":"quantitative","scale":{"domain":[-10.8,10.8],"nice":false,"zero":false},"axis":{"title":"Sample Quantile","values":[-10,-5,0,5,10],"labelExpr":"'' + datum.value","titlePadding":3}}},
 "layer":[
  {"data":{"name":"qq"},"transform":[{"filter":"datum.p == 'ADS40' && !datum.iso"}],"mark":{"type":"line","stroke":"#000000","strokeWidth":4.5,"strokeCap":"round","strokeJoin":"round"},"encoding":{}},
  {"data":{"name":"qq"},"transform":[{"filter":"datum.p == 'ADS40'"}],"mark":{"type":"circle","size":14,"opacity":1},"encoding":{"color":{"datum":"ADS40","type":"nominal","scale":{"domain":["ADS40"],"range":["#000000"]},"legend":{"title":null,"orient":"top-left","symbolType":"circle","symbolSize":3,"labelFontSize":7.5,"labelOffset":15,"offset":4,"clipHeight":9}}}},
  {"data":{"name":"qqline"},"transform":[{"filter":"datum.p == 'ADS40'"}],"mark":{"type":"line","stroke":"#ff2222","strokeWidth":1.2},"encoding":{}}
 ]},
{"width":201,"height":187,
 "encoding":{"x":{"field":"q","type":"quantitative","scale":{"domain":[-1.97,1.84],"nice":false,"zero":false},"axis":{"title":"Theoretical Quantile","values":[-1,0,1],"labelExpr":"'' + datum.value","titlePadding":4}},
  "y":{"field":"s","type":"quantitative","scale":{"domain":[-10.8,10.8],"nice":false,"zero":false},"axis":{"title":"Sample Quantile","values":[-10,-5,0,5,10],"labelExpr":"'' + datum.value","titlePadding":3}}},
 "layer":[
  {"data":{"name":"qq"},"transform":[{"filter":"datum.p == 'ADS80' && !datum.iso"}],"mark":{"type":"line","stroke":"#000000","strokeWidth":4.5,"strokeCap":"round","strokeJoin":"round"},"encoding":{}},
  {"data":{"name":"qq"},"transform":[{"filter":"datum.p == 'ADS80'"}],"mark":{"type":"circle","size":14,"opacity":1},"encoding":{"color":{"datum":"ADS80","type":"nominal","scale":{"domain":["ADS80"],"range":["#000000"]},"legend":{"title":null,"orient":"top-left","symbolType":"circle","symbolSize":1,"labelFontSize":7.5,"labelOffset":15,"offset":4,"clipHeight":9}}}},
  {"data":{"name":"qqline"},"transform":[{"filter":"datum.p == 'ADS80'"}],"mark":{"type":"line","stroke":"#ff2222","strokeWidth":1.2},"encoding":{}}
 ]}
],
"config":{
 "font":"Open Sans",
 "view":{"stroke":"#8c8c8c","strokeWidth":1},
 "axis":{"grid":false,"domain":false,"tickColor":"#777777","tickSize":4,"labelFont":"Liberation Sans","labelFontSize":6.5,"labelColor":"#444444","labelPadding":2,"titleFont":"Open Sans","titleFontSize":14,"titleFontWeight":"normal","titleColor":"#111111"},
 "axisX":{"titlePadding":3},
 "axisY":{"labelAngle":-90,"labelAlign":"center","labelBaseline":"bottom"},
 "title":{"font":"Open Sans","fontSize":19,"fontWeight":"normal","color":"#111111","offset":3},
 "legend":{"padding":0,"labelFont":"Liberation Sans","labelFontSize":9.8,"labelColor":"#222222","labelOffset":1,"rowPadding":0,"clipHeight":13,"symbolType":"stroke","symbolSize":400,"symbolStrokeWidth":1.3}
}
}
